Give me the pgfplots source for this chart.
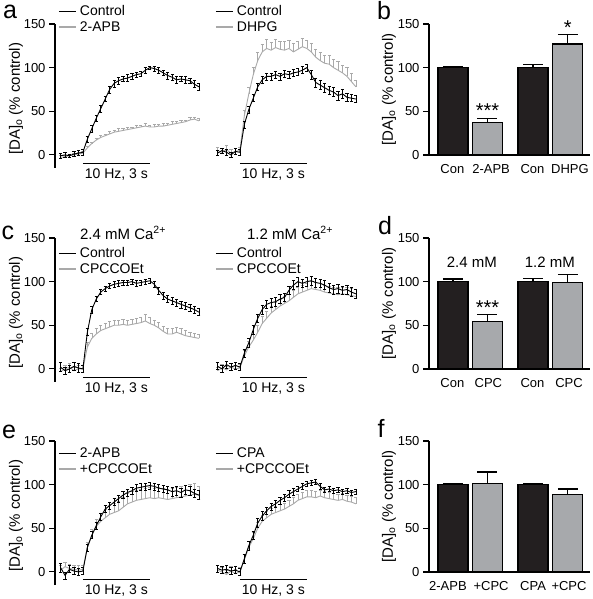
\documentclass[border=0pt]{standalone}
\usepackage{fontspec}
\setmainfont{Liberation Sans}
\usepackage{pgfplots}
\usepackage{pgfplotstable}
\pgfplotsset{compat=1.18}
\definecolor{barblack}{HTML}{231F20}
\definecolor{bargray}{HTML}{A7A9AC}
\definecolor{trgray}{HTML}{A9A9A9}

% columns: t = time (s), c = control, ce = s.e.m., d = drug, de = s.e.m.
\pgfplotstableread{
t c ce d de
-1.0 -1 3 -3 2
-0.8 0 3 -2 2
-0.6 -1 2 -1 2
-0.4 1 3 0 2
-0.2 2 3 1 2
0.0 3 3 2 2
0.2 18 3 8 2
0.4 30 4 13 2
0.6 42 3 17 2
0.8 53 4 20 3
1.0 64 3 22 2
1.2 75 4 24 3
1.4 82 4 26 2
1.6 85 4 27 3
1.8 87 3 28 2
2.0 88 4 29 3
2.2 90 3 30 2
2.4 92 3 31 3
2.6 93 3 32 2
2.8 97 3 33 3
3.0 100 2 32 2
3.2 99 3 32 3
3.4 97 3 33 2
3.6 94 3 33 3
3.8 91 4 34 2
4.0 89 3 35 3
4.2 86 4 36 2
4.4 87 3 37 3
4.6 86 4 38 2
4.8 85 3 40 3
5.0 81 4 41 2
5.2 78 4 39 3
}\tabA
\pgfplotstableread{
t c ce d de
-1.0 2 3 5 4
-0.8 5 3 3 4
-0.6 3 3 6 5
-0.4 0 3 2 4
-0.2 4 3 4 4
0.0 3 3 5 4
0.2 35 4 45 6
0.4 52 4 70 8
0.6 65 4 92 8
0.8 78 4 108 9
1.0 86 4 118 9
1.2 90 4 122 10
1.4 90 4 120 9
1.6 92 4 123 10
1.8 90 4 121 9
2.0 93 4 120 10
2.2 92 4 122 9
2.4 94 4 118 10
2.6 95 4 121 9
2.8 97 4 124 10
3.0 100 4 122 9
3.2 92 5 118 10
3.4 83 5 112 9
3.6 80 5 108 10
3.8 77 5 105 9
4.0 74 5 104 10
4.2 72 5 100 9
4.4 68 5 97 10
4.6 70 5 94 9
4.8 66 5 90 10
5.0 65 4 84 9
5.2 64 4 78 8
}\tabB
\pgfplotstableread{
t c ce d de
-1.0 2 5 -3 4
-0.8 -2 4 0 4
-0.6 0 4 2 4
-0.4 3 5 -2 4
-0.2 1 5 0 4
0.0 0 4 0 4
0.2 42 4 25 5
0.4 68 4 35 6
0.6 80 3 40 6
0.8 88 3 44 6
1.0 92 3 46 6
1.2 95 3 48 6
1.4 97 3 50 6
1.6 98 3 50 6
1.8 99 3 51 6
2.0 99 3 50 6
2.2 100 3 51 6
2.4 98 3 52 6
2.6 99 3 53 6
2.8 100 3 55 7
3.0 101 3 52 7
3.2 97 3 50 6
3.4 90 4 47 6
3.6 84 4 43 6
3.8 80 4 40 6
4.0 78 4 40 6
4.2 76 4 42 6
4.4 74 4 40 6
4.6 72 4 38 6
4.8 70 4 37 5
5.0 68 4 36 5
5.2 65 4 35 5
}\tabC
\pgfplotstableread{
t c ce d de
-1.0 3 4 -2 4
-0.8 0 4 1 4
-0.6 5 4 -1 4
-0.4 2 4 2 4
-0.2 4 4 0 4
0.0 2 4 1 4
0.2 18 5 15 6
0.4 30 5 25 7
0.6 45 5 33 7
0.8 58 5 42 8
1.0 68 5 52 8
1.2 74 5 58 8
1.4 76 5 64 8
1.6 77 5 68 8
1.8 80 5 72 8
2.0 82 5 75 8
2.2 90 5 78 8
2.4 96 5 82 8
2.6 100 5 86 8
2.8 98 5 88 8
3.0 100 5 90 8
3.2 101 5 92 8
3.4 99 5 91 8
3.6 98 5 90 8
3.8 96 5 88 8
4.0 93 5 87 8
4.2 91 5 86 8
4.4 92 5 85 8
4.6 90 5 86 8
4.8 91 5 85 8
5.0 88 5 84 8
5.2 86 5 83 8
}\tabD
\pgfplotstableread{
t c ce d de
-1.0 5 5 2 5
-0.8 -4 4 6 5
-0.6 3 4 4 5
-0.4 1 4 3 5
-0.2 0 4 2 5
0.0 1 4 3 5
0.2 28 4 28 6
0.4 42 4 42 7
0.6 53 4 52 8
0.8 63 4 58 9
1.0 72 4 62 10
1.2 76 4 66 10
1.4 80 4 68 11
1.6 84 4 70 11
1.8 88 4 74 12
2.0 91 4 78 12
2.2 93 4 80 12
2.4 96 4 82 12
2.6 97 4 83 12
2.8 98 4 84 12
3.0 99 4 85 12
3.2 98 4 84 12
3.4 96 4 85 12
3.6 95 4 84 12
3.8 94 4 83 12
4.0 92 5 84 12
4.2 93 5 85 12
4.4 91 5 86 12
4.6 94 5 87 12
4.8 93 5 88 12
5.0 90 5 89 12
5.2 88 5 88 10
}\tabE
\pgfplotstableread{
t c ce d de
-1.0 4 4 2 5
-0.8 2 4 0 5
-0.6 3 4 -3 5
-0.4 1 4 1 5
-0.2 2 4 -2 5
0.0 0 4 0 5
0.2 15 5 14 6
0.4 30 5 28 7
0.6 42 5 38 7
0.8 56 5 50 7
1.0 64 5 58 7
1.2 70 4 62 7
1.4 75 4 66 7
1.6 78 4 68 7
1.8 82 4 70 7
2.0 85 4 72 7
2.2 89 4 75 7
2.4 92 4 78 7
2.6 95 3 82 7
2.8 98 3 84 7
3.0 101 3 86 7
3.2 102 3 86 7
3.4 103 3 85 7
3.6 98 3 87 7
3.8 94 3 85 7
4.0 95 3 84 7
4.2 93 3 83 7
4.4 94 3 82 7
4.6 92 3 83 7
4.8 93 3 81 7
5.0 91 3 80 7
5.2 92 3 78 7
}\tabF

\pgfplotsset{
  trace/.style={scale only axis, width=145pt, height=144pt,
    xmin=-1.25, xmax=5.25, ymin=-15, ymax=150, clip=false,
    axis x line=none,
    /pgf/number format/assume math mode=true,
    tick label style={font=\fontsize{13}{15}\selectfont},
    legend style={draw=none, fill=none, inner sep=0pt, anchor=north west,
      font=\fontsize{14}{16}\selectfont, row sep=2pt, nodes={inner sep=1pt}},
    legend cell align=left,
    legend image code/.code={\draw[##1, line width=1.3pt] (0pt,0pt) -- (17pt,0pt); \path (20pt,0pt);}},
  withy/.style={axis y line=left, axis line style={-, line width=1.1pt},
    ytick={0,50,100,150}, tick align=outside, major tick length=6pt,
    ytick style={line width=1.1pt, black},
    ylabel={[DA]\textsubscript{o} (\% control)},
    ylabel style={at={(axis description cs:-0.269,0.48)}, anchor=center,
      font=\fontsize{15}{17}\selectfont}},
  noy/.style={axis y line=none},
  ctl/.style={black, line width=0.9pt,
    error bars/y dir=both, error bars/y explicit,
    error bars/error bar style={line width=0.6pt, black},
    error bars/error mark options={rotate=90, mark size=1.6pt, line width=0.6pt, black}},
  drg/.style={trgray, line width=0.9pt,
    error bars/y dir=plus, error bars/y explicit,
    error bars/error bar style={line width=0.6pt, trgray},
    error bars/error mark options={rotate=90, mark size=1.6pt, line width=0.6pt, trgray}},
  bars/.style={scale only axis, width=161pt, height=131pt,
    xmin=0, xmax=5.37, ymin=0, ymax=150, clip=false,
    axis x line=bottom, axis y line=left, axis line style={-, line width=1.1pt},
    ytick={0,50,100,150},
    tick align=outside, major tick length=6pt,
    ytick style={line width=1.1pt, black}, xtick style={draw=none},
    /pgf/number format/assume math mode=true,
    tick label style={font=\fontsize{13}{15}\selectfont},
    xticklabel style={font=\fontsize{13}{15}\selectfont},
    ylabel={[DA]\textsubscript{o} (\% control)},
    ylabel style={at={(axis description cs:-0.248,0.5)}, anchor=center,
      font=\fontsize{15}{17}\selectfont},
    ybar=0pt, bar width=1},
  bk/.style={fill=barblack, draw=black, line width=1.2pt, bar shift=0pt,
    error bars/y dir=plus, error bars/y explicit,
    error bars/error bar style={line width=1.2pt, black},
    error bars/error mark options={rotate=90, mark size=10pt, line width=1.2pt, black}},
  gy/.style={fill=bargray, draw=black, line width=1.2pt, bar shift=0pt,
    error bars/y dir=plus, error bars/y explicit,
    error bars/error bar style={line width=1.2pt, black},
    error bars/error mark options={rotate=90, mark size=10pt, line width=1.2pt, black}},
}
\newcommand{\stim}[1][-10]{\draw[line width=1.1pt] (axis cs:0,#1) -- (axis cs:3,#1)
  node[midway, below, inner sep=0pt, yshift=-4.5pt, font=\fontsize{14}{16}\selectfont] {10 Hz, 3 s};}
\newcommand{\letter}[2]{\node[font=\fontsize{25}{27}\selectfont, anchor=base, inner sep=0pt] at #1 {#2};}

\begin{document}
\begin{tikzpicture}[x=1pt,y=1pt]
\useasboundingbox (0,0) rectangle (592,599);

% ---------------- row a/b ----------------
\begin{axis}[trace, withy, at={(55pt,431pt)}, anchor=south west,
  legend style={at={(axis description cs:0.02,1.135)}}]
\addlegendimage{black}\addlegendentry{Control}
\addlegendimage{trgray}\addlegendentry{2-APB}
\addplot[drg, forget plot] table[x=t, y=d, y error=de] {\tabA};
\addplot[ctl, forget plot] table[x=t, y=c, y error=ce] {\tabA};
\stim
\end{axis}
\begin{axis}[trace, noy, at={(212pt,431pt)}, anchor=south west,
  legend style={at={(axis description cs:0.02,1.135)}}]
\addlegendimage{black}\addlegendentry{Control}
\addlegendimage{trgray}\addlegendentry{DHPG}
\addplot[drg, forget plot] table[x=t, y=d, y error=de] {\tabB};
\addplot[ctl, forget plot] table[x=t, y=c, y error=ce] {\tabB};
\stim
\end{axis}
\begin{axis}[bars, at={(429pt,444pt)}, anchor=south west,
  xtick={0.78,2.07,3.45,4.7}, xticklabels={Con,2-APB,Con,DHPG}]
\addplot[bk] coordinates {(0.8,100) +- (0,1.5) (3.47,100) +- (0,3.5)};
\addplot[gy] coordinates {(1.95,37.5) +- (0,4.5) (4.63,127) +- (0,11)};
\node[font=\fontsize{20}{22}\selectfont, anchor=base] at (axis cs:1.95,43) {***};
\node[font=\fontsize{20}{22}\selectfont, anchor=base] at (axis cs:4.63,138) {*};
\end{axis}

% ---------------- row c/d ----------------
\begin{axis}[trace, withy, at={(55pt,217pt)}, anchor=south west,
  legend style={at={(axis description cs:0.02,0.94)}}]
\addlegendimage{black}\addlegendentry{Control}
\addlegendimage{trgray}\addlegendentry{CPCCOEt}
\addplot[drg, forget plot] table[x=t, y=d, y error=de] {\tabC};
\addplot[ctl, forget plot] table[x=t, y=c, y error=ce] {\tabC};
\stim
\node[font=\fontsize{15}{17}\selectfont] at (axis description cs:0.469,1.035) {2.4 mM Ca\textsuperscript{2+}};
\end{axis}
\begin{axis}[trace, noy, at={(212pt,217pt)}, anchor=south west,
  legend style={at={(axis description cs:0.02,0.94)}}]
\addlegendimage{black}\addlegendentry{Control}
\addlegendimage{trgray}\addlegendentry{CPCCOEt}
\addplot[drg, forget plot] table[x=t, y=d, y error=de] {\tabD};
\addplot[ctl, forget plot] table[x=t, y=c, y error=ce] {\tabD};
\stim
\node[font=\fontsize{15}{17}\selectfont] at (axis description cs:0.538,1.035) {1.2 mM Ca\textsuperscript{2+}};
\end{axis}
\begin{axis}[bars, at={(429pt,230pt)}, anchor=south west,
  xtick={0.78,1.98,3.45,4.67}, xticklabels={Con,CPC,Con,CPC}]
\addplot[bk] coordinates {(0.8,100) +- (0,3) (3.47,100) +- (0,3.5)};
\addplot[gy] coordinates {(1.95,54) +- (0,8.5) (4.63,99) +- (0,9)};
\node[font=\fontsize{20}{22}\selectfont, anchor=base] at (axis cs:1.95,62) {***};
\node[font=\fontsize{15}{17}\selectfont] at (axis cs:1.43,122.6) {2.4 mM};
\node[font=\fontsize{15}{17}\selectfont] at (axis cs:4.03,122.6) {1.2 mM};
\end{axis}

% ---------------- row e/f ----------------
\begin{axis}[trace, withy, at={(55pt,14pt)}, anchor=south west,
  legend style={at={(axis description cs:0.02,0.96)}}]
\addlegendimage{black}\addlegendentry{2-APB}
\addlegendimage{trgray}\addlegendentry{+CPCCOEt}
\addplot[drg, forget plot] table[x=t, y=d, y error=de] {\tabE};
\addplot[ctl, forget plot] table[x=t, y=c, y error=ce] {\tabE};
\stim[-9]
\end{axis}
\begin{axis}[trace, noy, at={(212pt,14pt)}, anchor=south west,
  legend style={at={(axis description cs:0.02,0.96)}}]
\addlegendimage{black}\addlegendentry{CPA}
\addlegendimage{trgray}\addlegendentry{+CPCCOEt}
\addplot[drg, forget plot] table[x=t, y=d, y error=de] {\tabF};
\addplot[ctl, forget plot] table[x=t, y=c, y error=ce] {\tabF};
\stim[-9]
\end{axis}
\begin{axis}[bars, at={(429pt,27pt)}, anchor=south west,
  xtick={0.63,2.07,3.47,4.67}, xticklabels={2-APB,+CPC,CPA,+CPC}]
\addplot[bk] coordinates {(0.8,100) +- (0,1.5) (3.47,100) +- (0,1.5)};
\addplot[gy] coordinates {(1.95,101.5) +- (0,13) (4.63,89) +- (0,6)};
\end{axis}

% panel letters
\letter{(10,580)}{a}
\letter{(384,579)}{b}
\letter{(8,359)}{c}
\letter{(385,364)}{d}
\letter{(9,160)}{e}
\letter{(381,161)}{f}
\end{tikzpicture}
\end{document}
